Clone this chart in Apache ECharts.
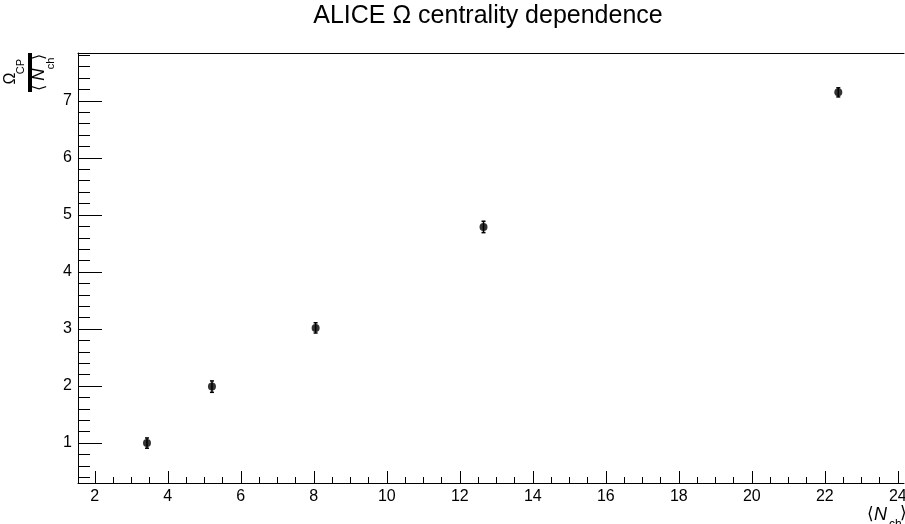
<!DOCTYPE html>
<html>
<head>
<meta charset="utf-8">
<script src="https://cdn.jsdelivr.net/npm/echarts@6/dist/echarts.min.js"></script>
<style>
  html, body { margin: 0; padding: 0; background: #fff; }
  #chart { width: 905px; height: 524px; }
</style>
</head>
<body>
<div id="chart"></div>
<script>
// Mean charged multiplicity per centrality class and the Omega yield ratio
const nch = [3.43, 5.21, 8.05, 12.65, 22.37];
const omegaCP = [1.00, 1.99, 3.02, 4.79, 7.15];
const omegaErr = [0.09, 0.10, 0.09, 0.10, 0.08];

// Axis ranges and tick positions
const X_MIN = 1.54, X_MAX = 24.17;
const Y_MIN = 0.30, Y_MAX = 7.84;
const xMajor = [2, 4, 6, 8, 10, 12, 14, 16, 18, 20, 22, 24];
const yMajor = [1, 2, 3, 4, 5, 6, 7];

const xMinor = [];
for (let v = 2; v <= X_MAX + 1e-9; v = Math.round((v + 0.5) * 10) / 10) {
  if (!xMajor.includes(v)) xMinor.push(v);
}
const yMinor = [];
for (let v = 0.4; v <= Y_MAX + 1e-9; v = Math.round((v + 0.2) * 10) / 10) {
  if (!yMajor.includes(v)) yMinor.push(v);
}

const FONT = '"Liberation Sans", Arial, Helvetica, sans-serif';
const INK = '#000';

const chart = echarts.init(document.getElementById('chart'), null, { renderer: 'canvas' });

const points = nch.map((x, i) => [x, omegaCP[i], omegaErr[i]]);

const option = {
  animation: false,
  backgroundColor: '#fff',
  grid: { left: 78, top: 53, right: 1, bottom: 41, containLabel: false, outerBoundsMode: 'none' },
  xAxis: [
    {
      type: 'value', min: X_MIN, max: X_MAX, position: 'bottom',
      axisLine: { show: true, onZero: false, lineStyle: { color: INK, width: 1 } },
      axisTick: { show: true, inside: true, length: 12, customValues: xMajor, lineStyle: { color: INK, width: 1 } },
      axisLabel: {
        show: true, customValues: xMajor, fontSize: 16, fontFamily: FONT, color: INK, margin: 6,
        formatter: v => (v === 24 ? '{last|24}' : String(v)),
        rich: { last: { fontSize: 16, fontFamily: FONT, color: INK, padding: [0, 0, 6, 0] } }
      },
      splitLine: { show: false }
    },
    {
      type: 'value', min: X_MIN, max: X_MAX, position: 'bottom',
      axisLine: { show: false },
      axisTick: { show: true, inside: true, length: 6, customValues: xMinor, lineStyle: { color: INK, width: 1 } },
      axisLabel: { show: false },
      splitLine: { show: false }
    },
    {
      type: 'value', min: X_MIN, max: X_MAX, position: 'top',
      axisLine: { show: true, onZero: false, lineStyle: { color: INK, width: 1 } },
      axisTick: { show: false }, axisLabel: { show: false }, splitLine: { show: false }
    }
  ],
  yAxis: [
    {
      type: 'value', min: Y_MIN, max: Y_MAX, position: 'left',
      axisLine: { show: true, onZero: false, lineStyle: { color: INK, width: 1 } },
      axisTick: { show: true, inside: true, length: 24, customValues: yMajor, lineStyle: { color: INK, width: 1 } },
      axisLabel: { show: true, customValues: yMajor, fontSize: 16, fontFamily: FONT, color: INK, margin: 6 },
      splitLine: { show: false }
    },
    {
      type: 'value', min: Y_MIN, max: Y_MAX, position: 'left',
      axisLine: { show: false },
      axisTick: { show: true, inside: true, length: 12, customValues: yMinor, lineStyle: { color: INK, width: 1 } },
      axisLabel: { show: false },
      splitLine: { show: false }
    }
  ],
  series: [
    {
      type: 'custom',
      xAxisIndex: 0, yAxisIndex: 0,
      data: points,
      renderItem: function (params, api) {
        const x = api.value(0), y = api.value(1), e = api.value(2);
        const lo = api.coord([x, y - e]);
        const hi = api.coord([x, y + e]);
        const cap = 2;
        const style = { stroke: INK, lineWidth: 1.5 };
        return {
          type: 'group',
          children: [
            { type: 'line', shape: { x1: lo[0], y1: lo[1], x2: hi[0], y2: hi[1] }, style },
            { type: 'line', shape: { x1: lo[0] - cap, y1: lo[1], x2: lo[0] + cap, y2: lo[1] }, style },
            { type: 'line', shape: { x1: hi[0] - cap, y1: hi[1], x2: hi[0] + cap, y2: hi[1] }, style }
          ]
        };
      },
      z: 2
    },
    {
      type: 'scatter',
      xAxisIndex: 0, yAxisIndex: 0,
      data: points.map(p => [p[0], p[1]]),
      symbol: 'circle',
      symbolSize: 8,
      itemStyle: { color: INK },
      z: 3
    }
  ],
  graphic: [
    {
      type: 'text', x: 488, y: 16,
      style: { text: 'ALICE Ω centrality dependence', font: '25px ' + FONT, fill: INK, textAlign: 'center', textVerticalAlign: 'middle' }
    },
    // x-axis title ⟨N_ch⟩
    {
      type: 'group', x: 0, y: 0,
      children: [
        { type: 'text', x: 867, y: 514, style: { text: '⟨', font: '17px ' + FONT, fill: INK, textAlign: 'left', textVerticalAlign: 'middle' } },
        { type: 'text', x: 874, y: 515, style: { text: 'N', font: 'italic 18px ' + FONT, fill: INK, textAlign: 'left', textVerticalAlign: 'middle' } },
        { type: 'text', x: 889, y: 525, style: { text: 'ch', font: '12px ' + FONT, fill: INK, textAlign: 'left', textVerticalAlign: 'middle' } },
        { type: 'text', x: 900, y: 513, style: { text: '⟩', font: '17px ' + FONT, fill: INK, textAlign: 'left', textVerticalAlign: 'middle' } }
      ]
    },
    // y-axis title: Ω_CP over ⟨N_ch⟩, rotated
    {
      type: 'group', x: 30, y: 72.5, rotation: Math.PI / 2,
      children: [
        { type: 'rect', shape: { x: -19.5, y: -2, width: 39, height: 4 }, style: { fill: INK } },
        { type: 'text', x: -6, y: -19, style: { text: 'Ω', font: '16px ' + FONT, fill: INK, textAlign: 'center', textVerticalAlign: 'middle' } },
        { type: 'text', x: 6, y: -9.5, style: { text: 'CP', font: '11px ' + FONT, fill: INK, textAlign: 'center', textVerticalAlign: 'middle' } },
        { type: 'text', x: -15, y: 10, style: { text: '⟨', font: '16px ' + FONT, fill: INK, textAlign: 'center', textVerticalAlign: 'middle' } },
        { type: 'text', x: -2, y: 9, style: { text: 'N', font: 'italic 17px ' + FONT, fill: INK, textAlign: 'center', textVerticalAlign: 'middle' } },
        { type: 'text', x: 9, y: 21, style: { text: 'ch', font: '11px ' + FONT, fill: INK, textAlign: 'center', textVerticalAlign: 'middle' } },
        { type: 'text', x: 16, y: 10, style: { text: '⟩', font: '16px ' + FONT, fill: INK, textAlign: 'center', textVerticalAlign: 'middle' } }
      ]
    }
  ]
};

chart.setOption(option);
</script>
</body>
</html>
